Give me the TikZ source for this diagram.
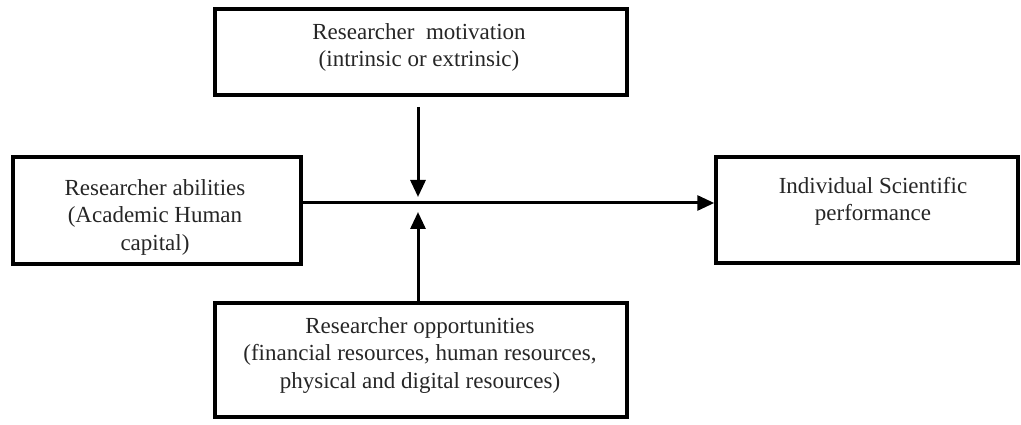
\documentclass[tikz,border=0pt]{standalone}
\usepackage{fontspec}
\setmainfont{Liberation Serif}
\usetikzlibrary{arrows.meta}
\begin{document}
\begin{tikzpicture}[x=1pt,y=-1pt,
  box/.style={draw=black, line width=3.5pt, inner sep=0pt, fill=white},
  lbl/.style={anchor=north, align=center, inner sep=0pt, font=\fontsize{23}{27.5}\selectfont, text=black!85},
  arr/.style={line width=3pt, -{Triangle[length=17pt,width=15pt]}}]
\useasboundingbox (0,0) rectangle (1021,425);
% boxes
\node[box, minimum width=412pt, minimum height=86pt] (mot) at (421,52) {};
\node[box, minimum width=288pt, minimum height=107pt] (abl) at (157,210.5) {};
\node[box, minimum width=302pt, minimum height=106pt] (perf) at (867,210) {};
\node[box, minimum width=412pt, minimum height=114pt] (opp) at (421,360) {};
% labels
\node[lbl] (motT) at (419,23) {Researcher~ motivation\\(intrinsic or extrinsic)};
\node[lbl] (ablT) at (155,179) {Researcher abilities\\(Academic Human\\capital)};
\node[lbl] (perfT) at (873,177) {Individual Scientific\\performance};
\node[lbl] (oppT) at (420,317) {Researcher opportunities\\(financial resources, human resources,\\physical and digital resources)};
% connectors
\coordinate (cross) at (418,203);
\coordinate (dstart) at (418,107);
\coordinate (dend) at (418,197);
\coordinate (uend) at (418,212);
\draw[arr] (abl.east |- cross) -- (perf.west |- cross);
\draw[arr] (dstart) -- (dend);
\draw[arr] (opp.north -| cross) -- (uend);
\end{tikzpicture}
\end{document}
